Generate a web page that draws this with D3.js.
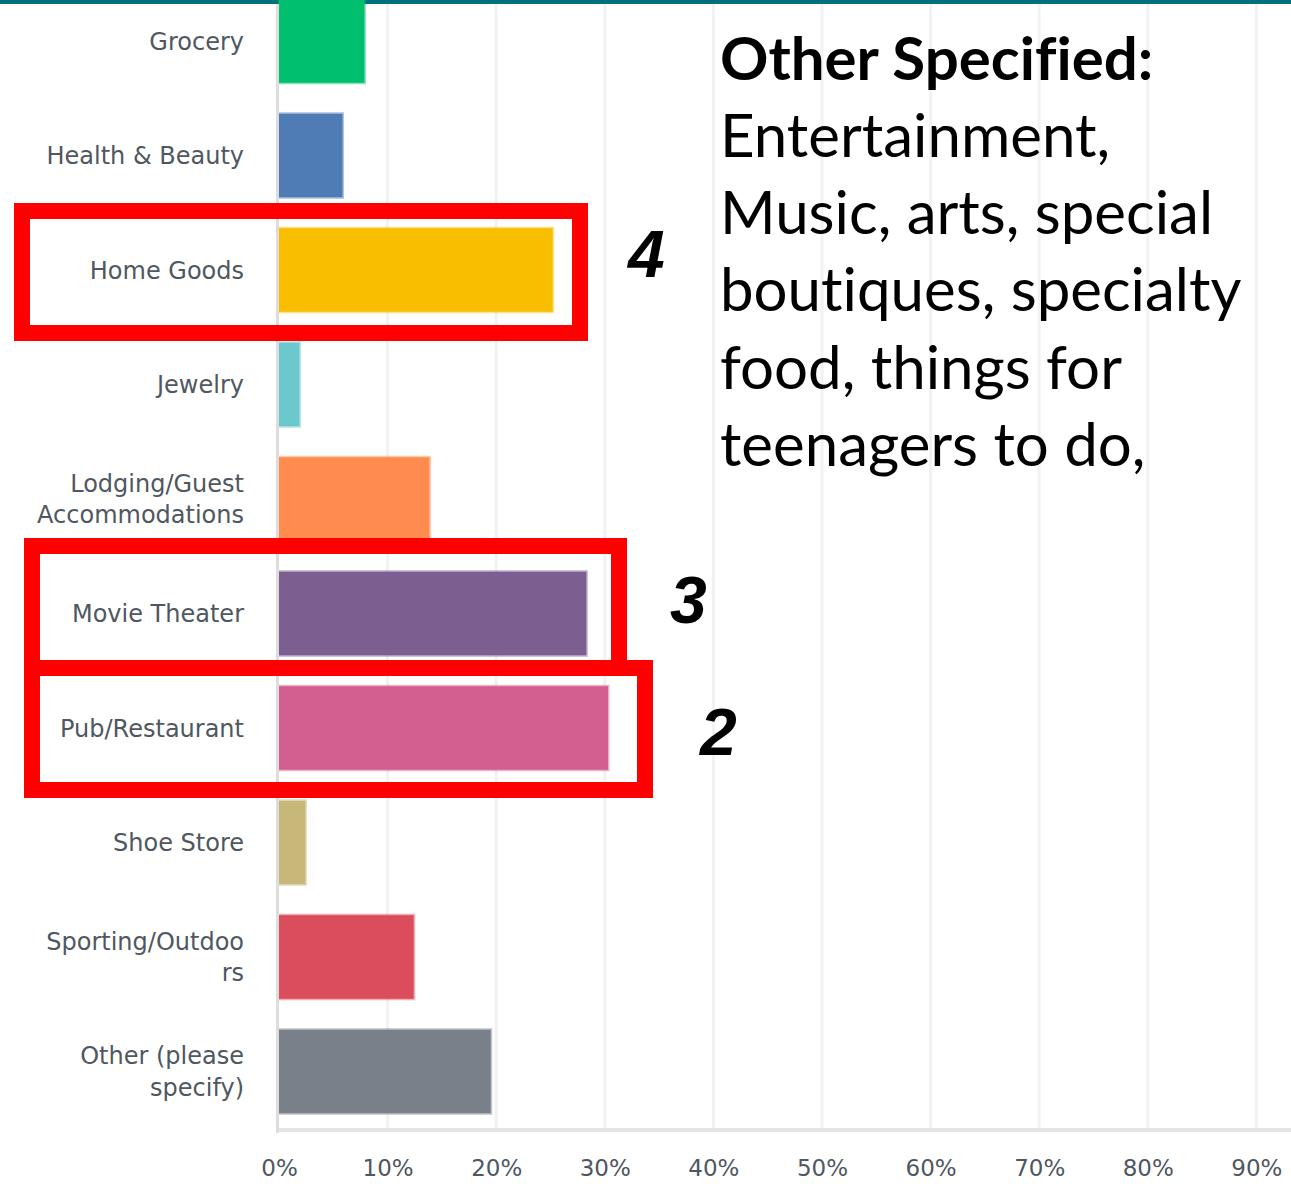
<!DOCTYPE html>
<html>
<head>
<meta charset="utf-8">
<script src="https://cdn.jsdelivr.net/npm/d3@7"></script>
<style>
  html, body { margin: 0; padding: 0; background: #fff; overflow: hidden; }
  svg { display: block; }
  .note text { font-variant-ligatures: none; font-feature-settings: "liga" 0, "clig" 0; }
</style>
</head>
<body>
<svg id="chart" width="1291" height="1184"></svg>
<script>
// Survey answers: share of respondents per business type
const categories = [
  "Grocery", "Health & Beauty", "Home Goods", "Jewelry",
  "Lodging/Guest Accommodations", "Movie Theater", "Pub/Restaurant",
  "Shoe Store", "Sporting/Outdoors", "Other (please specify)"
];
const labelLines = [
  ["Grocery"], ["Health & Beauty"], ["Home Goods"], ["Jewelry"],
  ["Lodging/Guest", "Accommodations"], ["Movie Theater"], ["Pub/Restaurant"],
  ["Shoe Store"], ["Sporting/Outdoo", "rs"], ["Other (please", "specify)"]
];
const values = [0.0787, 0.0585, 0.252, 0.0189, 0.1386, 0.283, 0.303, 0.0244, 0.124, 0.195];
const colors = ["#00BF6F", "#507CB6", "#F9BE00", "#6BC8CD", "#FF8B4F",
                "#7D5E90", "#D25F90", "#C7B879", "#DB4D5C", "#798089"];
const tickValues = [0, 0.1, 0.2, 0.3, 0.4, 0.5, 0.6, 0.7, 0.8, 0.9];
const tickLabels = ["0%", "10%", "20%", "30%", "40%", "50%", "60%", "70%", "80%", "90%"];

// Top-ranked choices, highlighted with boxes
const rankedCategories = ["Home Goods", "Movie Theater", "Pub/Restaurant"];
const rankLabels = ["4", "3", "2"];

// Free-text answers summary
const noteTitle = "Other Specified:";
const noteLines = ["Entertainment,", "Music, arts, special", "boutiques, specialty", "food, things for", "teenagers to do,"];

const W = 1291, H = 1184;
const svg = d3.select("#chart");

const x = d3.scaleLinear().domain([0, 1]).range([279, 1365]);
const y = d3.scaleBand().domain(categories)
  .range([-16.25, 1128.75]).paddingInner(0.27).paddingOuter(0.135);
const bw = y.bandwidth();
const axisY = 1130;

// header strip
svg.append("rect").attr("x", 0).attr("y", 0).attr("width", W).attr("height", 4).attr("fill", "#00707C");

// vertical gridlines
svg.append("g").selectAll("line").data(tickValues.filter(d => d > 0)).join("line")
  .attr("x1", d => x(d)).attr("x2", d => x(d))
  .attr("y1", 4).attr("y2", axisY)
  .attr("stroke", "#f2f2f2").attr("stroke-width", 3);

// bars
svg.append("g").selectAll("rect").data(categories).join("rect")
  .attr("x", x(0))
  .attr("y", d => y(d))
  .attr("width", (d, i) => x(values[i]) - x(0))
  .attr("height", bw)
  .attr("fill", (d, i) => colors[i])
  .attr("stroke", (d, i) => colors[i])
  .attr("stroke-opacity", 0.45)
  .attr("stroke-width", 3);

// x axis
const xAxis = d3.axisBottom(x)
  .tickValues(tickValues)
  .tickFormat((d, i) => tickLabels[i])
  .tickSize(0).tickSizeOuter(0).tickPadding(30);
const gx = svg.append("g").attr("transform", `translate(0,${axisY})`).call(xAxis);
gx.select(".domain").attr("stroke", "#e5e5e5").attr("stroke-width", 4)
  .attr("d", `M${x(0) - 3},0H${W}`);
gx.selectAll("text")
  .attr("font-family", "'DejaVu Sans', Verdana, sans-serif")
  .attr("font-size", 23).attr("fill", "#4f575f");

// y axis with wrapped category labels
const yAxis = d3.axisLeft(y).tickSize(0).tickSizeOuter(0).tickPadding(33).tickFormat(() => "");
const gy = svg.append("g").attr("transform", "translate(277.5,0)").call(yAxis);
gy.select(".domain").attr("stroke", "#dddddd").attr("stroke-width", 3)
  .attr("d", `M0,4V${axisY + 3}`);
gy.selectAll(".tick text").each(function (d) {
  const lines = labelLines[categories.indexOf(d)];
  const t = d3.select(this)
    .attr("font-family", "'DejaVu Sans', Verdana, sans-serif")
    .attr("font-size", 24).attr("fill", "#4f575f")
    .attr("text-anchor", "end").attr("dy", null);
  const lh = 31.5;
  lines.forEach((s, k) => {
    t.append("tspan").attr("x", -33.5)
      .attr("y", (k - (lines.length - 1) / 2) * lh + 8.5)
      .text(s);
  });
});

// highlight boxes and rank numbers
const boxLayout = [
  { left: 14, right: 588, dy: 2,  numX: 628, numDy: 7 },
  { left: 24, right: 627, dy: -6.5, numX: 670, numDy: 9.5 },
  { left: 24, right: 653, dy: 1,  numX: 700, numDy: 27 }
];
const boxH = 138, sw = 16;
const ann = svg.append("g");
rankedCategories.forEach((c, i) => {
  const L = boxLayout[i];
  const cy = y(c) + bw / 2;
  ann.append("rect")
    .attr("x", L.left + sw / 2).attr("y", cy + L.dy - boxH / 2 + sw / 2)
    .attr("width", L.right - L.left - sw).attr("height", boxH - sw)
    .attr("fill", "none").attr("stroke", "#ff0000").attr("stroke-width", sw);
  ann.append("text")
    .attr("x", L.numX).attr("y", cy + L.numDy)
    .attr("font-family", "'Liberation Sans', Arial, sans-serif")
    .attr("font-weight", "bold").attr("font-style", "italic")
    .attr("font-size", 66).attr("fill", "#000")
    .text(rankLabels[i]);
});

// note text block
const note = svg.append("g").attr("class", "note")
  .attr("font-family", "Lato, 'Open Sans', sans-serif").attr("fill", "#000");
note.append("text").attr("x", 720).attr("y", 80)
  .attr("font-weight", "bold").attr("font-size", 60).text(noteTitle);
noteLines.forEach((s, i) => {
  note.append("text").attr("x", 720).attr("y", 157 + i * 77.2)
    .attr("font-size", 60).text(s);
});
</script>
</body>
</html>
